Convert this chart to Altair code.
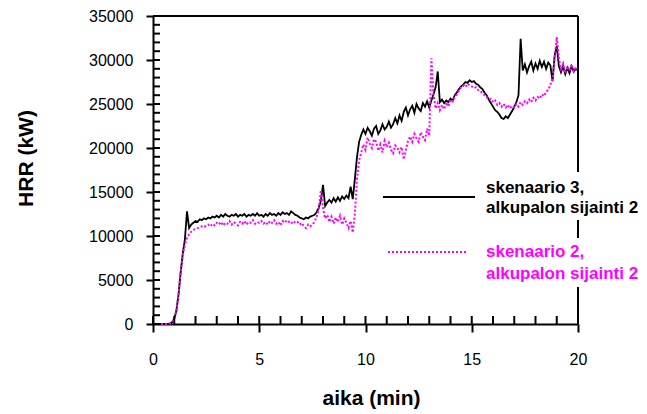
import altair as alt
import pandas as pd

# ---------------- data ----------------
time_min = [round(i * 0.1, 1) for i in range(201)]

hrr_s3 = [
    0, 0, 0, 0, 0, 0, 0, 0, 50, 200,
    600, 1500, 3300, 5800, 8000, 9600, 12800, 10900, 11300, 11500,
    11700, 11600, 11900, 11800, 12000, 11900, 12100, 12000, 12200, 12100,
    12300, 12100, 12400, 12200, 12500, 12300, 12200, 12400, 12300, 12500,
    12200, 12400, 12300, 12500, 12200, 12400, 12300, 12500, 12300, 12600,
    12300, 12400, 12200, 12500, 12300, 12600, 12400, 12500, 12300, 12600,
    12400, 12700, 12500, 12600, 12400, 12800, 12600, 12400, 12300, 12100,
    12000, 11900, 12100, 12000, 12200, 12300, 12400, 12700, 13200, 14000,
    15800, 13400, 13800, 14100, 13800, 14300, 13900, 14400, 14000, 14500,
    14200, 14600, 14300, 15600, 14200, 16500, 19000, 20700, 21500, 22100,
    21600, 22300, 21900, 21400, 22200, 22500, 21600, 22000, 22700, 22100,
    22400, 23000, 22300, 22700, 23400, 22800, 23700, 23100, 24100, 24600,
    23700, 24400, 24800, 24000, 25000, 24500, 24200, 25100, 24700, 25300,
    24600, 25400, 26100, 26900, 28700, 25200, 25500, 25100, 25400, 25200,
    25600, 25400, 26000, 26300, 26700, 27000, 27200, 27500, 27400, 27700,
    27500, 27600, 27300, 27200, 26900, 26700, 26300, 26000, 25500, 25100,
    24700, 24300, 24100, 23800, 23400, 23300, 23600, 23400, 23800, 24200,
    24700, 25200, 26000, 32400, 28800, 29500, 28600, 29300, 29800, 28800,
    29600, 29000, 29900, 29200, 29800, 29000, 29700, 29400, 27600, 30500,
    31600, 29300, 28600, 29300, 28400, 29100, 28500, 29300, 28700, 29000,
    28800,
]

hrr_s2 = [
    0, 0, 0, 0, 0, 0, 0, 0, 50, 200,
    600, 1500, 3300, 5800, 7800, 9000, 9800, 10200, 10500, 10700,
    10800, 10900, 11000, 11100, 11000, 11200, 11300, 11100, 11400, 11200,
    11500, 11300, 11600, 11200, 11500, 11400, 11700, 11300, 11600, 11400,
    11200, 11600, 11400, 11700, 11300, 11600, 11500, 11800, 11400, 11600,
    11500, 11700, 11400, 11600, 11300, 11700, 11500, 11800, 11400, 11600,
    11200, 11700, 11500, 11800, 11600, 11400, 11700, 11500, 11600, 11300,
    11500, 11100, 10900, 11300, 11100, 11300, 11600, 12200, 13000, 15200,
    13200, 12000, 12400, 11600, 12200, 11400, 12100, 11600, 12300, 11300,
    12000, 11500, 10900, 11700, 10400, 12600, 16500, 18600, 19500, 20400,
    19800, 21200, 20500, 20000, 21000, 20700, 19700, 20400, 19500, 20800,
    20100, 20600, 19800, 19400, 20300, 20000, 19500, 20100, 18700, 19800,
    20800, 21300, 20700, 21600, 21100, 20700, 21800, 21300, 20900, 22200,
    21400, 30200, 26000, 24500, 25100, 24300, 24900, 24400, 25200, 24700,
    25500, 25300, 25800, 26100, 26500, 26900, 27100, 26900, 27300, 27100,
    27000, 26800, 26900, 26600, 26400, 26300, 26000, 25800, 25500, 25600,
    25200, 25400, 24900, 25100, 24700, 25000, 24600, 24900, 24500, 24800,
    24600, 25000, 24700, 25200, 24900, 25300, 25100, 25500, 25200, 25700,
    25400, 25800, 25600, 26100, 25900, 26400, 26600, 27200, 27900, 30000,
    32600, 30200, 29000, 29600, 28500, 29300, 28800, 29500, 28700, 29200,
    28900,
]

x_ticks = [0, 5, 10, 15, 20]
y_ticks = [0, 5000, 10000, 15000, 20000, 25000, 30000, 35000]
x_minor = list(range(0, 21))
y_minor = list(range(0, 35001, 1000))

series_names = ["skenaario 3,", "skenaario 2,"]
second_line = "alkupalon sijainti 2"

assert len(time_min) == len(hrr_s3) == len(hrr_s2)

# ---------------- chart ----------------
FONT = "Liberation Sans"
W, H = 425, 308
PAD_L, PAD_T = 153, 16

df = pd.DataFrame({"t": time_min, "s3": hrr_s3, "s2": hrr_s2})
xs = alt.Scale(domain=[0, 20], nice=False, zero=False)
ys = alt.Scale(domain=[0, 35000], nice=False)

x_axis = alt.Axis(
    values=x_ticks, format="d", grid=False, tickSize=8, tickWidth=2, tickColor="black",
    domainColor="black", domainWidth=2, labelFontSize=16, labelColor="black",
    labelFont=FONT, labelPadding=19, labelFlush=False,
    title="aika (min)", titleFont=FONT, titleFontSize=21, titleFontWeight="bold",
    titleColor="black", titleX=218, titleY=74, titleBaseline="middle",
)
y_axis = alt.Axis(
    values=y_ticks, format="d", grid=False, tickSize=7, tickWidth=2, tickColor="black",
    domainColor="black", domainWidth=2, labelFontSize=16, labelColor="black",
    labelFont=FONT, labelPadding=13, labelFlush=False,
    title="HRR (kW)", titleFont=FONT, titleFontSize=21, titleFontWeight="bold",
    titleColor="black", titleX=-127, titleY=142, titleBaseline="middle", titleAngle=270,
)

X = lambda f: alt.X(f, scale=xs, axis=x_axis, title="aika (min)")
Y = lambda f: alt.Y(f, scale=ys, axis=y_axis, title="HRR (kW)")

line3 = alt.Chart(df).mark_line(color="black", strokeWidth=1.8).encode(
    x=X("t:Q"), y=Y("s3:Q"),
)
line2 = alt.Chart(df).mark_line(color="#FF00FF", strokeWidth=2, strokeDash=[2, 2]).encode(
    x=X("t:Q"), y=Y("s2:Q"),
)

yin = alt.Chart(pd.DataFrame({"v": y_minor})).mark_rule(color="black", strokeWidth=2).encode(
    y=Y("v:Q"), x=alt.value(0), x2=alt.value(7)
)
xin = alt.Chart(pd.DataFrame({"v": x_minor})).mark_rule(color="black", strokeWidth=2).encode(
    x=X("v:Q"), y=alt.value(H), y2=alt.value(H - 8)
)

one = pd.DataFrame({"a": [0]})
top_border = alt.Chart(one).mark_rule(color="black", strokeWidth=2).encode(
    x=alt.value(0), x2=alt.value(W), y=alt.value(0)
)
right_border = alt.Chart(one).mark_rule(color="black", strokeWidth=2).encode(
    x=alt.value(W), y=alt.value(0), y2=alt.value(H)
)

bg1 = alt.Chart(one).mark_rect(color="white").encode(
    x=alt.value(328), x2=alt.value(492), y=alt.value(156), y2=alt.value(204)
)
bg2 = alt.Chart(one).mark_rect(color="white").encode(
    x=alt.value(328), x2=alt.value(492), y=alt.value(222), y2=alt.value(271)
)
leg_line3 = alt.Chart(one).mark_rule(color="black", strokeWidth=2).encode(
    x=alt.value(230), x2=alt.value(322), y=alt.value(181)
)
leg_line2 = alt.Chart(one).mark_rule(color="#FF00FF", strokeWidth=2, strokeDash=[2, 2]).encode(
    x=alt.value(235), x2=alt.value(314), y=alt.value(236)
)


def label(txt, color, ypix):
    return alt.Chart(one).mark_text(
        align="left", baseline="middle", font=FONT, fontSize=17, fontWeight="bold", color=color
    ).encode(x=alt.value(333), y=alt.value(ypix), text=alt.value(txt))


chart = alt.layer(
    line3, line2, yin, xin, top_border, right_border,
    bg1, bg2, leg_line3, leg_line2,
    label(series_names[0], "black", 172), label(second_line, "black", 192),
    label(series_names[1], "#FF00FF", 236), label(second_line, "#FF00FF", 258),
).properties(
    width=W, height=H,
    padding={"left": PAD_L, "top": PAD_T, "right": 647 - PAD_L - W, "bottom": 414 - PAD_T - H},
    autosize=alt.AutoSizeParams(type="none"),
).configure_view(stroke=None).configure(background="white")

chart.save("out.html", embed_options={"renderer": "svg", "actions": False})
